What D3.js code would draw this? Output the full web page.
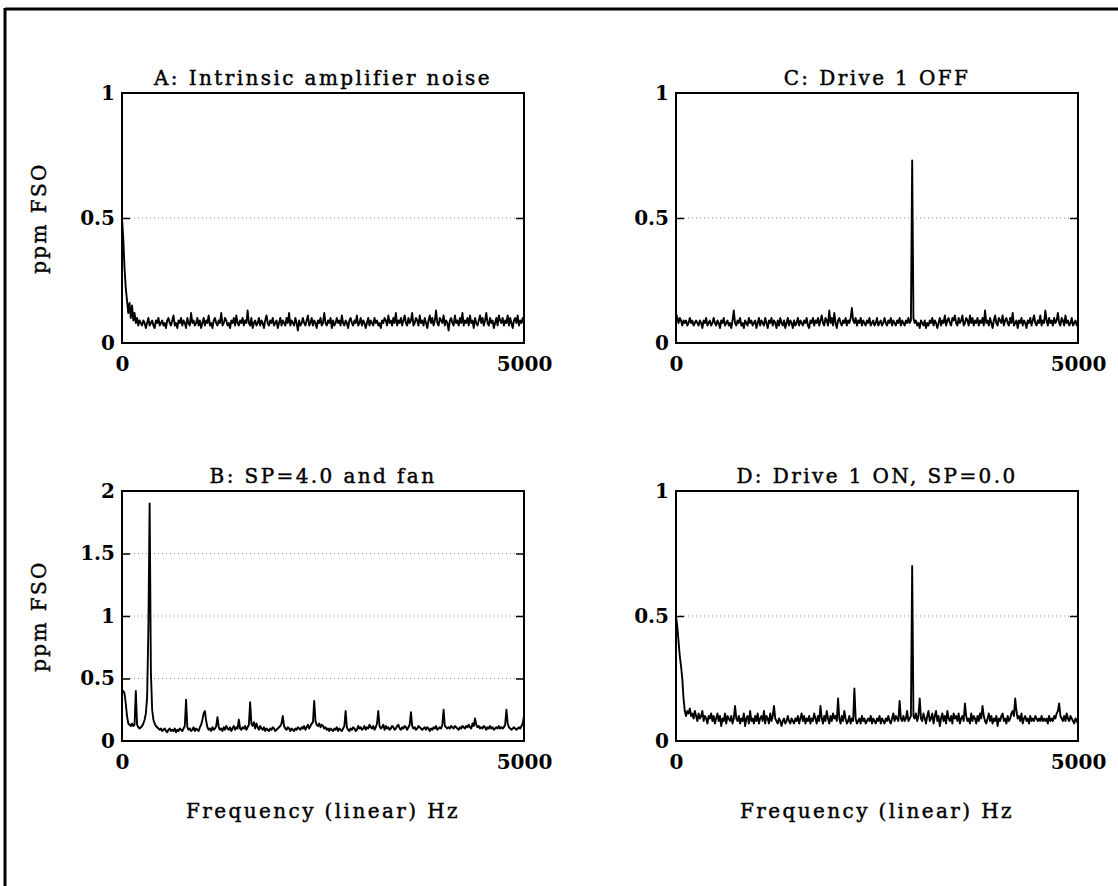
<!DOCTYPE html>
<html>
<head>
<meta charset="utf-8">
<script src="https://cdn.jsdelivr.net/npm/d3@7"></script>
<style>
  html, body { margin: 0; padding: 0; background: #fff; }
  svg { display: block; }
  .lbl { font-family: "DejaVu Serif", serif; font-size: 20px; letter-spacing: 2.4px; fill: #000; stroke: #000; stroke-width: 0.45px; }
  .tick text { font-family: "DejaVu Serif", serif; font-size: 20px; font-weight: bold; fill: #000; }
</style>
</head>
<body>
<svg id="chart" width="1118" height="886"></svg>
<script>
// Amplitude spectra, one value per 15.625 Hz bin from 0 to 5000 Hz (ppm FSO)
const binHz = 15.625;
const freqTickLabels = [0, 5000];
const yTicksUnit = [0, 0.5, 1];
const yTicksTwo = [0, 0.5, 1, 1.5, 2];
const titles = ["A: Intrinsic amplifier noise", "B: SP=4.0 and fan", "C: Drive 1 OFF", "D: Drive 1 ON, SP=0.0"];
const xAxisTitle = "Frequency (linear) Hz";
const yAxisTitle = "ppm FSO";

const ampA = [
  0.50,0.42,0.30,0.22,0.17,0.12,0.16,0.10,0.15,0.09,0.12,0.08,0.10,0.07,0.09,0.08,
  0.07,0.09,0.08,0.06,0.08,0.10,0.07,0.08,0.09,0.07,0.06,0.09,0.08,0.10,0.07,0.08,
  0.09,0.07,0.08,0.06,0.09,0.10,0.08,0.07,0.09,0.11,0.07,0.08,0.06,0.09,0.08,0.10,
  0.07,0.09,0.08,0.06,0.10,0.08,0.07,0.12,0.08,0.09,0.07,0.08,0.10,0.07,0.09,0.06,
  0.08,0.10,0.07,0.09,0.08,0.11,0.07,0.08,0.06,0.09,0.10,0.08,0.07,0.09,0.08,0.12,
  0.07,0.08,0.10,0.09,0.07,0.08,0.06,0.09,0.08,0.10,0.07,0.11,0.08,0.07,0.09,0.08,
  0.10,0.07,0.09,0.08,0.13,0.08,0.07,0.10,0.06,0.08,0.09,0.07,0.08,0.10,0.07,0.09,
  0.08,0.06,0.09,0.11,0.08,0.07,0.09,0.08,0.10,0.07,0.08,0.09,0.06,0.08,0.10,0.07,
  0.09,0.08,0.07,0.10,0.08,0.12,0.07,0.09,0.08,0.07,0.10,0.08,0.05,0.09,0.07,0.08,
  0.10,0.08,0.07,0.09,0.11,0.07,0.08,0.10,0.07,0.09,0.08,0.06,0.09,0.08,0.10,0.07,
  0.08,0.12,0.08,0.07,0.09,0.08,0.10,0.06,0.09,0.07,0.08,0.10,0.08,0.09,0.07,0.11,
  0.08,0.07,0.09,0.08,0.06,0.09,0.10,0.08,0.07,0.09,0.08,0.11,0.07,0.08,0.10,0.07,
  0.09,0.08,0.06,0.08,0.10,0.07,0.09,0.08,0.07,0.10,0.08,0.09,0.07,0.08,0.06,0.09,
  0.08,0.10,0.09,0.07,0.11,0.08,0.09,0.07,0.10,0.08,0.12,0.07,0.09,0.08,0.10,0.07,
  0.09,0.11,0.08,0.07,0.10,0.08,0.09,0.12,0.07,0.08,0.10,0.09,0.07,0.11,0.08,0.09,
  0.07,0.10,0.08,0.06,0.09,0.11,0.08,0.10,0.07,0.09,0.13,0.08,0.07,0.10,0.09,0.08,
  0.11,0.07,0.09,0.08,0.05,0.09,0.10,0.08,0.07,0.11,0.08,0.09,0.07,0.10,0.08,0.12,
  0.07,0.09,0.08,0.10,0.07,0.11,0.08,0.09,0.06,0.10,0.08,0.07,0.09,0.11,0.08,0.10,
  0.07,0.09,0.12,0.08,0.07,0.10,0.08,0.09,0.06,0.08,0.10,0.07,0.11,0.09,0.08,0.10,
  0.07,0.09,0.08,0.11,0.07,0.10,0.08,0.06,0.09,0.10,0.08,0.11,0.07,0.09,0.08,0.10,
  0.08
];

const ampB = [
  0.39,0.40,0.38,0.30,0.20,0.14,0.13,0.12,0.14,0.12,0.13,0.40,0.13,0.11,0.10,0.11,
  0.12,0.14,0.17,0.22,0.35,0.90,1.90,0.55,0.25,0.17,0.14,0.12,0.11,0.10,0.09,0.10,
  0.08,0.09,0.10,0.08,0.07,0.09,0.10,0.08,0.09,0.08,0.10,0.07,0.09,0.08,0.10,0.09,
  0.08,0.10,0.12,0.33,0.11,0.09,0.10,0.08,0.09,0.11,0.08,0.10,0.09,0.08,0.11,0.13,
  0.17,0.22,0.24,0.16,0.11,0.09,0.10,0.08,0.11,0.09,0.10,0.12,0.19,0.11,0.09,0.10,
  0.08,0.11,0.09,0.12,0.10,0.09,0.11,0.08,0.10,0.12,0.09,0.11,0.10,0.17,0.10,0.09,
  0.11,0.10,0.12,0.09,0.11,0.13,0.31,0.14,0.12,0.15,0.10,0.14,0.11,0.09,0.12,0.10,
  0.09,0.11,0.08,0.10,0.09,0.08,0.10,0.09,0.11,0.10,0.08,0.09,0.10,0.11,0.12,0.14,
  0.20,0.12,0.10,0.09,0.11,0.10,0.08,0.10,0.09,0.08,0.10,0.09,0.11,0.10,0.09,0.11,
  0.10,0.12,0.09,0.11,0.13,0.10,0.12,0.14,0.15,0.32,0.16,0.13,0.12,0.14,0.11,0.13,
  0.12,0.10,0.11,0.09,0.10,0.08,0.10,0.09,0.08,0.10,0.09,0.11,0.08,0.10,0.09,0.08,
  0.10,0.12,0.24,0.11,0.09,0.08,0.10,0.09,0.11,0.10,0.08,0.09,0.12,0.10,0.11,0.09,
  0.10,0.12,0.09,0.11,0.10,0.13,0.11,0.10,0.12,0.09,0.11,0.14,0.24,0.12,0.10,0.11,
  0.13,0.09,0.12,0.10,0.11,0.09,0.10,0.12,0.11,0.09,0.10,0.12,0.13,0.10,0.09,0.11,
  0.10,0.12,0.11,0.09,0.11,0.13,0.23,0.12,0.10,0.11,0.09,0.10,0.12,0.11,0.10,0.09,
  0.10,0.11,0.09,0.11,0.10,0.08,0.10,0.09,0.11,0.10,0.12,0.09,0.10,0.11,0.10,0.13,
  0.25,0.12,0.11,0.10,0.11,0.10,0.12,0.11,0.10,0.12,0.11,0.10,0.09,0.11,0.10,0.12,
  0.11,0.10,0.12,0.11,0.13,0.11,0.10,0.14,0.12,0.18,0.13,0.11,0.12,0.10,0.11,0.10,
  0.12,0.11,0.09,0.11,0.10,0.12,0.10,0.11,0.09,0.10,0.11,0.10,0.12,0.10,0.11,0.10,
  0.11,0.13,0.25,0.14,0.11,0.10,0.09,0.10,0.11,0.10,0.09,0.10,0.11,0.10,0.12,0.14,
  0.20
];

const ampC = [
  0.12,0.10,0.08,0.10,0.09,0.07,0.09,0.08,0.09,0.07,0.08,0.10,0.08,0.09,0.07,0.08,
  0.09,0.08,0.07,0.09,0.08,0.06,0.09,0.08,0.10,0.07,0.08,0.09,0.07,0.08,0.10,0.08,
  0.07,0.09,0.08,0.06,0.09,0.08,0.10,0.07,0.08,0.09,0.07,0.08,0.06,0.09,0.13,0.08,
  0.07,0.09,0.08,0.10,0.07,0.08,0.06,0.09,0.08,0.07,0.10,0.08,0.09,0.07,0.08,0.09,
  0.06,0.08,0.10,0.07,0.09,0.08,0.07,0.10,0.08,0.06,0.09,0.08,0.10,0.07,0.09,0.08,
  0.06,0.09,0.07,0.10,0.08,0.07,0.09,0.06,0.08,0.10,0.07,0.09,0.08,0.06,0.09,0.07,
  0.08,0.10,0.07,0.09,0.08,0.07,0.09,0.08,0.10,0.07,0.06,0.09,0.08,0.10,0.07,0.09,
  0.08,0.10,0.07,0.09,0.11,0.08,0.07,0.10,0.09,0.07,0.13,0.08,0.10,0.07,0.12,0.08,
  0.06,0.09,0.10,0.08,0.07,0.09,0.08,0.10,0.07,0.09,0.08,0.10,0.14,0.09,0.08,0.10,
  0.07,0.09,0.08,0.10,0.07,0.09,0.08,0.07,0.09,0.08,0.10,0.07,0.08,0.09,0.07,0.08,
  0.10,0.07,0.08,0.09,0.07,0.08,0.10,0.08,0.07,0.09,0.08,0.10,0.07,0.09,0.08,0.07,
  0.09,0.08,0.10,0.07,0.09,0.08,0.07,0.09,0.08,0.10,0.08,0.09,0.73,0.10,0.08,0.09,
  0.07,0.08,0.06,0.09,0.08,0.07,0.09,0.06,0.08,0.07,0.09,0.08,0.10,0.07,0.09,0.08,
  0.06,0.08,0.10,0.07,0.09,0.08,0.11,0.07,0.09,0.10,0.08,0.07,0.10,0.09,0.11,0.08,
  0.07,0.10,0.08,0.09,0.11,0.07,0.08,0.10,0.09,0.07,0.11,0.08,0.10,0.07,0.09,0.08,
  0.10,0.07,0.09,0.08,0.10,0.07,0.13,0.08,0.09,0.07,0.10,0.08,0.06,0.09,0.11,0.08,
  0.07,0.10,0.09,0.08,0.11,0.07,0.09,0.10,0.08,0.07,0.10,0.08,0.12,0.07,0.08,0.09,
  0.06,0.09,0.08,0.10,0.07,0.09,0.08,0.06,0.09,0.08,0.10,0.07,0.09,0.11,0.08,0.07,
  0.09,0.08,0.11,0.07,0.09,0.08,0.13,0.09,0.07,0.10,0.08,0.09,0.07,0.10,0.08,0.09,
  0.12,0.08,0.07,0.10,0.09,0.07,0.11,0.08,0.09,0.07,0.08,0.10,0.07,0.08,0.09,0.07,
  0.07
];

const ampD = [
  0.50,0.46,0.40,0.34,0.30,0.25,0.17,0.12,0.10,0.12,0.11,0.13,0.10,0.11,0.09,0.12,
  0.10,0.08,0.11,0.09,0.10,0.12,0.08,0.10,0.09,0.07,0.10,0.09,0.11,0.08,0.10,0.07,
  0.09,0.11,0.08,0.10,0.06,0.09,0.08,0.11,0.07,0.10,0.09,0.08,0.10,0.07,0.09,0.14,
  0.09,0.08,0.10,0.07,0.09,0.08,0.11,0.06,0.09,0.10,0.07,0.12,0.08,0.09,0.07,0.10,
  0.08,0.11,0.07,0.09,0.10,0.08,0.12,0.07,0.10,0.09,0.07,0.11,0.08,0.10,0.14,0.09,
  0.08,0.07,0.09,0.08,0.06,0.08,0.09,0.07,0.08,0.10,0.08,0.07,0.09,0.08,0.07,0.09,
  0.08,0.10,0.07,0.09,0.11,0.08,0.10,0.07,0.09,0.08,0.10,0.07,0.09,0.08,0.11,0.09,
  0.07,0.10,0.08,0.14,0.09,0.07,0.10,0.08,0.12,0.09,0.07,0.10,0.08,0.11,0.09,0.10,
  0.08,0.17,0.09,0.07,0.10,0.08,0.12,0.09,0.07,0.08,0.10,0.07,0.09,0.08,0.21,0.09,
  0.07,0.08,0.09,0.07,0.10,0.08,0.09,0.07,0.08,0.09,0.08,0.10,0.07,0.09,0.08,0.07,
  0.09,0.08,0.10,0.07,0.09,0.08,0.07,0.09,0.08,0.10,0.08,0.07,0.09,0.11,0.08,0.10,
  0.09,0.08,0.16,0.09,0.08,0.10,0.08,0.09,0.12,0.08,0.09,0.10,0.70,0.10,0.09,0.11,
  0.08,0.10,0.17,0.09,0.08,0.11,0.09,0.07,0.10,0.12,0.08,0.09,0.11,0.07,0.10,0.12,
  0.08,0.10,0.06,0.09,0.11,0.08,0.10,0.07,0.12,0.09,0.08,0.10,0.07,0.11,0.09,0.10,
  0.08,0.11,0.07,0.09,0.10,0.08,0.15,0.10,0.08,0.09,0.07,0.11,0.08,0.10,0.09,0.07,
  0.10,0.08,0.11,0.09,0.14,0.10,0.08,0.07,0.09,0.11,0.08,0.10,0.07,0.09,0.08,0.10,
  0.06,0.09,0.08,0.10,0.11,0.08,0.09,0.07,0.10,0.08,0.09,0.11,0.12,0.10,0.17,0.12,
  0.09,0.10,0.08,0.11,0.07,0.09,0.10,0.08,0.09,0.07,0.10,0.08,0.09,0.08,0.10,0.09,
  0.08,0.09,0.08,0.10,0.08,0.09,0.08,0.09,0.07,0.10,0.08,0.09,0.08,0.10,0.09,0.11,
  0.12,0.15,0.10,0.09,0.08,0.10,0.08,0.11,0.09,0.08,0.10,0.09,0.08,0.07,0.09,0.08,
  0.07
];

// Panel placement on the page
const colLeft = [122, 676];
const rowTop = [93, 491];
const boxW = 402, boxH = 250;

const panels = [
  { title: titles[0], amp: ampA, yMax: 1, yTicks: yTicksUnit, col: 0, row: 0 },
  { title: titles[1], amp: ampB, yMax: 2, yTicks: yTicksTwo,  col: 0, row: 1 },
  { title: titles[2], amp: ampC, yMax: 1, yTicks: yTicksUnit, col: 1, row: 0 },
  { title: titles[3], amp: ampD, yMax: 1, yTicks: yTicksUnit, col: 1, row: 1 }
];

const svg = d3.select("#chart");

// page frame
svg.append("line").attr("x1", 5).attr("x2", 1118).attr("y1", 9).attr("y2", 9)
  .attr("stroke", "#000").attr("stroke-width", 3);
svg.append("line").attr("x1", 5).attr("x2", 5).attr("y1", 8).attr("y2", 886)
  .attr("stroke", "#000").attr("stroke-width", 3);

const fmt = d => d === 0 ? "0" : String(d);

panels.forEach(p => {
  const x0 = colLeft[p.col], y0 = rowTop[p.row];
  const g = svg.append("g").attr("transform", `translate(${x0},${y0})`);

  const x = d3.scaleLinear().domain([0, 5000]).range([0, boxW]);
  const y = d3.scaleLinear().domain([0, p.yMax]).range([boxH, 0]);

  // dotted reference lines
  g.selectAll("line.grid")
    .data(p.yTicks.filter(t => t > 0 && t < p.yMax))
    .join("line")
    .attr("class", "grid")
    .attr("x1", 0).attr("x2", boxW)
    .attr("y1", d => y(d)).attr("y2", d => y(d))
    .attr("stroke", "#8a8a8a").attr("stroke-width", 1)
    .attr("stroke-dasharray", "1,3");

  // left axis with inward ticks
  const yl = g.append("g").call(
    d3.axisLeft(y).tickValues(p.yTicks).tickFormat(fmt).tickSizeInner(-8).tickSizeOuter(0).tickPadding(7)
  );
  yl.select(".domain").remove();
  yl.selectAll(".tick line").attr("stroke-width", 1.5)
    .style("display", d => (d === 0 || d === p.yMax) ? "none" : null);

  // right axis ticks
  const yr = g.append("g").attr("transform", `translate(${boxW},0)`).call(
    d3.axisRight(y).tickValues(p.yTicks).tickFormat("").tickSizeInner(-8).tickSizeOuter(0)
  );
  yr.select(".domain").remove();
  yr.selectAll(".tick line").attr("stroke-width", 1.5)
    .style("display", d => (d === 0 || d === p.yMax) ? "none" : null);

  // frequency axis labels
  const xa = g.append("g").attr("transform", `translate(0,${boxH})`).call(
    d3.axisBottom(x).tickValues(freqTickLabels).tickFormat(d3.format("d")).tickSize(0).tickPadding(14)
  );
  xa.select(".domain").remove();

  // plot frame
  g.append("rect").attr("x", 0).attr("y", 0).attr("width", boxW).attr("height", boxH)
    .attr("fill", "none").attr("stroke", "#000").attr("stroke-width", 2);

  // spectrum trace
  const line = d3.line().x((d, i) => x(i * binHz)).y(d => y(d));
  g.append("path").datum(p.amp)
    .attr("d", line)
    .attr("fill", "none").attr("stroke", "#000")
    .attr("stroke-width", 1.9).attr("stroke-linejoin", "round");

  // panel title
  g.append("text").attr("class", "lbl")
    .attr("x", boxW / 2).attr("y", -8)
    .attr("text-anchor", "middle").text(p.title);

  // axis titles
  if (p.col === 0) {
    g.append("text").attr("class", "lbl")
      .attr("transform", `translate(${39 - x0},${boxH / 2}) rotate(-90)`)
      .attr("text-anchor", "middle").attr("dominant-baseline", "central")
      .text(yAxisTitle);
  }
  if (p.row === 1) {
    g.append("text").attr("class", "lbl")
      .attr("x", boxW / 2).attr("y", 818 - y0)
      .attr("text-anchor", "middle").text(xAxisTitle);
  }
});
</script>
</body>
</html>
